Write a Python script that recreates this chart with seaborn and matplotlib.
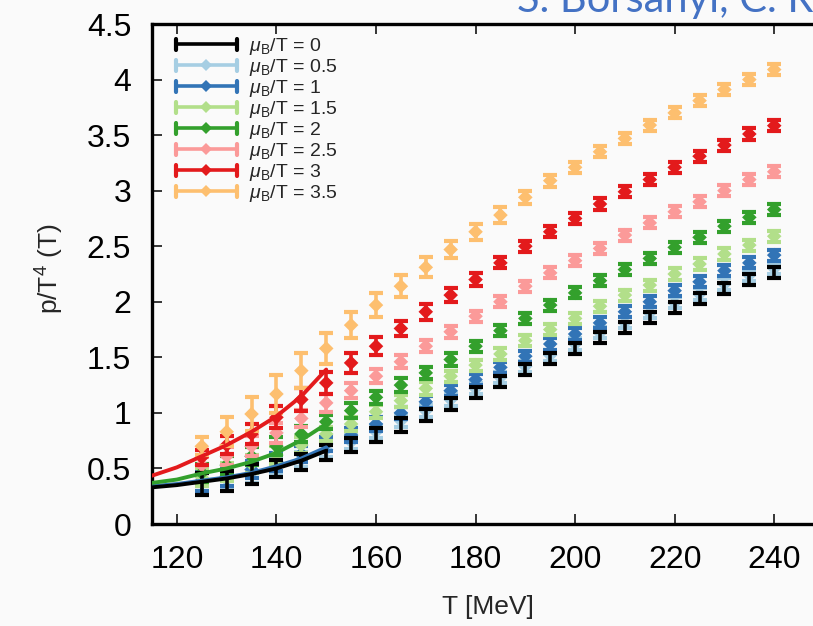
import numpy as np
import pandas as pd
import matplotlib
matplotlib.use("Agg")
import matplotlib.pyplot as plt
import seaborn as sns
from matplotlib.legend_handler import HandlerBase
from matplotlib.lines import Line2D

# ---------------- data ----------------
T = [125, 130, 135, 140, 145, 150, 155, 160, 165, 170, 175, 180,
     185, 190, 195, 200, 205, 210, 215, 220, 225, 230, 235, 240]

mu_labels = ["0", "0.5", "1", "1.5", "2", "2.5", "3", "3.5"]

p_mu0_0 = [0.36, 0.39, 0.45, 0.50, 0.56, 0.645, 0.71, 0.80, 0.89, 0.98, 1.08, 1.18,
           1.28, 1.39, 1.49, 1.58, 1.68, 1.77, 1.86, 1.95, 2.03, 2.12, 2.20, 2.265]
p_mu0_5 = [0.37, 0.40, 0.46, 0.52, 0.58, 0.67, 0.74, 0.83, 0.93, 1.02, 1.12, 1.22,
           1.32, 1.42, 1.52, 1.62, 1.72, 1.81, 1.90, 1.99, 2.07, 2.16, 2.24, 2.30]
p_mu1_0 = [0.39, 0.43, 0.49, 0.56, 0.63, 0.72, 0.80, 0.90, 1.00, 1.10, 1.20, 1.30,
           1.41, 1.51, 1.62, 1.71, 1.81, 1.91, 2.00, 2.10, 2.18, 2.28, 2.35, 2.42]
p_mu1_5 = [0.42, 0.47, 0.54, 0.62, 0.71, 0.81, 0.90, 1.01, 1.11, 1.22, 1.33, 1.43,
           1.53, 1.65, 1.75, 1.85, 1.96, 2.06, 2.15, 2.25, 2.34, 2.43, 2.51, 2.59]
p_mu2_0 = [0.46, 0.53, 0.61, 0.70, 0.81, 0.92, 1.02, 1.14, 1.25, 1.36, 1.48, 1.60,
           1.74, 1.85, 1.97, 2.08, 2.19, 2.29, 2.39, 2.49, 2.58, 2.68, 2.76, 2.83]
p_mu2_5 = [0.53, 0.61, 0.70, 0.82, 0.95, 1.09, 1.20, 1.33, 1.46, 1.60, 1.73, 1.87,
           2.00, 2.14, 2.26, 2.37, 2.48, 2.60, 2.71, 2.81, 2.90, 3.00, 3.10, 3.17]
p_mu3_0 = [0.60, 0.71, 0.81, 0.96, 1.12, 1.27, 1.45, 1.60, 1.76, 1.91, 2.06, 2.20,
           2.35, 2.50, 2.63, 2.75, 2.88, 2.99, 3.10, 3.21, 3.31, 3.41, 3.51, 3.585]
p_mu3_5 = [0.70, 0.83, 0.99, 1.17, 1.38, 1.58, 1.79, 1.97, 2.14, 2.31, 2.47, 2.63,
           2.78, 2.94, 3.09, 3.21, 3.35, 3.47, 3.59, 3.70, 3.81, 3.91, 4.00, 4.09]

err_mu0_0 = [0.10, 0.09, 0.09, 0.08, 0.07, 0.065, 0.065, 0.06, 0.06, 0.055, 0.055, 0.05,
             0.05, 0.05, 0.05, 0.05, 0.05, 0.05, 0.05, 0.05, 0.05, 0.05, 0.05, 0.05]
err_mu0_5 = [0.10, 0.09, 0.09, 0.08, 0.07, 0.065, 0.065, 0.06, 0.06, 0.055, 0.055, 0.05,
             0.05, 0.05, 0.05, 0.05, 0.05, 0.05, 0.05, 0.05, 0.05, 0.05, 0.05, 0.05]
err_mu1_0 = [0.09, 0.09, 0.08, 0.08, 0.07, 0.065, 0.06, 0.06, 0.055, 0.055, 0.05, 0.05,
             0.05, 0.05, 0.05, 0.05, 0.05, 0.05, 0.05, 0.05, 0.05, 0.05, 0.05, 0.05]
err_mu1_5 = [0.08, 0.08, 0.08, 0.08, 0.07, 0.065, 0.06, 0.06, 0.055, 0.055, 0.05, 0.05,
             0.05, 0.05, 0.05, 0.05, 0.05, 0.05, 0.05, 0.05, 0.05, 0.05, 0.05, 0.05]
err_mu2_0 = [0.08, 0.08, 0.08, 0.08, 0.07, 0.065, 0.065, 0.06, 0.06, 0.055, 0.055, 0.05,
             0.05, 0.05, 0.05, 0.05, 0.05, 0.05, 0.05, 0.05, 0.05, 0.05, 0.05, 0.05]
err_mu2_5 = [0.07, 0.08, 0.09, 0.09, 0.08, 0.08, 0.07, 0.065, 0.06, 0.055, 0.055, 0.05,
             0.05, 0.05, 0.05, 0.05, 0.05, 0.05, 0.05, 0.05, 0.05, 0.05, 0.05, 0.05]
err_mu3_0 = [0.07, 0.08, 0.09, 0.10, 0.10, 0.10, 0.09, 0.08, 0.07, 0.07, 0.06, 0.055,
             0.05, 0.05, 0.05, 0.05, 0.05, 0.05, 0.05, 0.05, 0.05, 0.05, 0.05, 0.05]
err_mu3_5 = [0.08, 0.13, 0.15, 0.17, 0.16, 0.14, 0.12, 0.11, 0.10, 0.09, 0.08, 0.07,
             0.07, 0.06, 0.055, 0.05, 0.05, 0.05, 0.05, 0.05, 0.05, 0.05, 0.05, 0.05]

# HRG-like curves (low temperature)
T_line = [115, 120, 125, 130, 135, 140, 145, 150]
line_mu0 = [0.33, 0.35, 0.38, 0.41, 0.45, 0.50, 0.57, 0.66]
line_mu1 = [0.34, 0.36, 0.39, 0.42, 0.46, 0.52, 0.59, 0.69]
line_mu2 = [0.37, 0.40, 0.455, 0.50, 0.56, 0.64, 0.755, 0.90]
line_mu3 = [0.435, 0.51, 0.61, 0.71, 0.83, 0.97, 1.15, 1.39]

values = [p_mu0_0, p_mu0_5, p_mu1_0, p_mu1_5, p_mu2_0, p_mu2_5, p_mu3_0, p_mu3_5]
errors = [err_mu0_0, err_mu0_5, err_mu1_0, err_mu1_5, err_mu2_0, err_mu2_5, err_mu3_0, err_mu3_5]

# ---------------- style ----------------
sns.set_theme(style="ticks")
plt.rcParams['font.family'] = ['Liberation Sans', 'DejaVu Sans']
plt.rcParams['mathtext.fontset'] = 'custom'
plt.rcParams['mathtext.rm'] = 'Liberation Sans'
plt.rcParams['mathtext.it'] = 'Liberation Sans:italic'
plt.rcParams['mathtext.bf'] = 'Liberation Sans:bold'

bg = '#fafafa'
paired = sns.color_palette("Paired", 8)
colors = ['#000000'] + [paired[i] for i in range(7)]
colors[2] = '#3274b6'

fig = plt.figure(figsize=(8.13, 6.26), dpi=100, facecolor=bg)
ax = fig.add_axes([152 / 813, 102 / 626, 672 / 813, 500 / 626])
ax.set_facecolor(bg)

zorders = [3.0, 2.0, 2.1, 2.2, 2.3, 2.4, 2.5, 2.6]
for i, (vals, errs, c) in enumerate(zip(values, errors, colors)):
    ax.errorbar(T, vals, yerr=errs, fmt='none', ecolor=c, elinewidth=2.6,
                capsize=5.0, capthick=3.0, zorder=zorders[i])
    if i > 0:
        sns.scatterplot(x=T, y=vals, color=c, marker='D', s=55, edgecolor='none',
                        linewidth=0, ax=ax, zorder=zorders[i] + 0.05, legend=False)

for ln, c, z in zip([line_mu1, line_mu2, line_mu3, line_mu0],
                    [colors[2], colors[4], colors[6], colors[0]],
                    [3.5, 3.6, 3.7, 3.8]):
    sns.lineplot(x=T_line, y=ln, color=c, lw=2.8, ax=ax, zorder=z, legend=False)

ax.set_xlim(115, 250)
ax.set_ylim(0, 4.5)
ax.set_xticks([120, 140, 160, 180, 200, 220, 240])
ax.set_yticks([0, 0.5, 1, 1.5, 2, 2.5, 3, 3.5, 4, 4.5])
ax.set_yticklabels(["0", "0.5", "1", "1.5", "2", "2.5", "3", "3.5", "4", "4.5"])
ax.tick_params(direction='in', length=7, width=1.1, top=True, right=True,
               labelsize=23, colors='black')
ax.tick_params(axis='x', pad=15)
ax.tick_params(axis='y', pad=15)
for s in ax.spines.values():
    s.set_linewidth(2.4)
    s.set_color('black')

ax.set_xlabel("T [MeV]", fontsize=19)
ax.set_ylabel("p/T$^4$ (T)", fontsize=19)
ax.xaxis.set_label_coords(0.5, -0.142)
ax.yaxis.set_label_coords(-0.128, 0.51)


class ErrHandler(HandlerBase):
    def create_artists(self, legend, orig_handle, xdescent, ydescent,
                       width, height, fontsize, trans):
        c = orig_handle.get_color()
        mk = orig_handle.get_marker()
        y = height / 2 - ydescent
        x0, x1 = -xdescent, -xdescent + width
        h = 0.28 * fontsize
        arts = [Line2D([x0, x1], [y, y], color=c, lw=2.6, transform=trans),
                Line2D([x0, x0], [y - h, y + h], color=c, lw=3.0, transform=trans),
                Line2D([x1, x1], [y - h, y + h], color=c, lw=3.0, transform=trans)]
        if mk == 'D':
            arts.append(Line2D([(x0 + x1) / 2], [y], marker='D', markersize=6.5,
                               color=c, markeredgewidth=0, transform=trans))
        return arts


handles = []
for i, c in enumerate(colors):
    handles.append(Line2D([], [], color=c, marker='D' if i > 0 else 'None'))
labels = [r"$\mu_{\rm B}$/T = " + m for m in mu_labels]
leg = ax.legend(handles, labels, handler_map={Line2D: ErrHandler()},
                loc='upper left', bbox_to_anchor=(0.035, 0.976), frameon=False,
                fontsize=14, handlelength=3.15, handletextpad=0.62,
                labelspacing=0.0, borderpad=0, borderaxespad=0)

fig.text(517 / 813, 1 - 12 / 626, "S. Borsanyi, C. Ratti et al.", color='#4472c4',
         fontsize=30, family=['Lato', 'DejaVu Sans'], va='baseline', ha='left')

fig.savefig("out.png", dpi=100, facecolor=bg)
